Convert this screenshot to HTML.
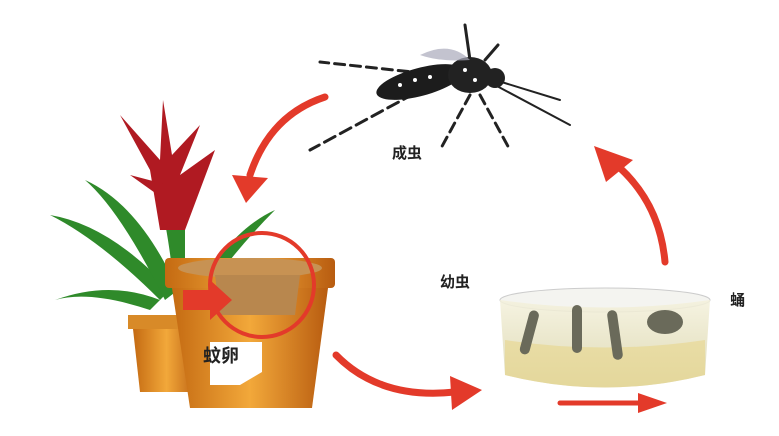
<!DOCTYPE html>
<html><head><meta charset="utf-8"><style>
html,body{margin:0;padding:0;background:#fff;width:779px;height:436px;overflow:hidden}
svg{display:block}
text{font-family:"Liberation Sans","Noto Sans CJK SC",sans-serif;font-weight:bold;fill:#222}
</style></head><body>
<svg width="779" height="436" viewBox="0 0 779 436">
<defs>
<linearGradient id="pot" x1="0" x2="1"><stop offset="0" stop-color="#c46a12"/><stop offset="0.5" stop-color="#f2a83a"/><stop offset="1" stop-color="#b85c10"/></linearGradient>
<linearGradient id="dish" x1="0" y1="0" x2="0" y2="1"><stop offset="0" stop-color="#f4f1dc"/><stop offset="1" stop-color="#d8d3a8"/></linearGradient>
</defs>
<!-- mosquito -->
<g stroke="#222" stroke-linecap="round" fill="none">
<path d="M440 75 L320 62" stroke-width="3" stroke-dasharray="10 6"/>
<path d="M430 85 L310 150" stroke-width="3" stroke-dasharray="12 6"/>
<path d="M470 95 L440 150" stroke-width="3" stroke-dasharray="10 6"/>
<path d="M480 95 L510 150" stroke-width="3" stroke-dasharray="10 6"/>
<path d="M495 85 L570 125" stroke-width="2"/>
<path d="M495 80 L560 100" stroke-width="2"/>
<path d="M470 60 L465 25" stroke-width="3"/>
<path d="M485 60 L498 45" stroke-width="3"/>
</g>
<ellipse cx="420" cy="82" rx="45" ry="14" fill="#1c1c1c" transform="rotate(-15 420 82)"/>
<ellipse cx="470" cy="75" rx="22" ry="18" fill="#222"/>
<circle cx="495" cy="78" r="10" fill="#222"/>
<path d="M420 55 Q450 40 470 60 Q440 62 420 55Z" fill="#aab" opacity="0.7"/>
<g fill="#fff"><circle cx="465" cy="70" r="2"/><circle cx="475" cy="80" r="2"/><circle cx="400" cy="85" r="2"/><circle cx="415" cy="80" r="2"/><circle cx="430" cy="77" r="2"/></g>
<text x="392" y="158" font-size="15">成虫</text>
<!-- plant -->
<g fill="#2f8a2a">
<path d="M160 300 Q100 240 50 215 Q110 225 170 290Z"/>
<path d="M165 300 Q120 210 85 180 Q140 205 178 290Z"/>
<path d="M190 300 Q230 230 275 210 Q235 250 200 300Z"/>
<path d="M175 300 Q170 240 160 200 L185 200 Q185 250 185 300Z"/>
<path d="M150 310 Q90 290 55 300 Q110 280 160 300Z"/>
</g>
<g fill="#b01a22">
<path d="M160 230 L150 170 L120 115 L160 160 L163 100 L172 155 L200 125 L180 175 L215 150 L185 230Z"/>
<path d="M165 200 L130 175 L168 185Z"/>
</g>
<!-- small pot -->
<rect x="128" y="315" width="78" height="14" fill="#d88a28"/>
<path d="M133 329 L200 329 L193 392 L140 392Z" fill="url(#pot)"/>
<!-- big pot -->
<rect x="165" y="258" width="170" height="30" rx="4" fill="url(#pot)"/>
<path d="M172 288 L328 288 L312 408 L190 408Z" fill="url(#pot)"/>
<ellipse cx="250" cy="268" rx="72" ry="10" fill="#c79253"/>
<path d="M215 275 L300 275 L295 315 L220 315Z" fill="#b8874e"/>
<path d="M210 342 L262 342 L262 372 L240 385 L210 385Z" fill="#fff"/>
<text x="203" y="362" font-size="18">蚊卵</text>
<circle cx="262" cy="285" r="52" fill="none" stroke="#e33a2a" stroke-width="4"/>
<path d="M183 290 L210 290 L210 280 L232 300 L210 320 L210 310 L183 310Z" fill="#e33a2a"/>
<!-- dish -->
<ellipse cx="605" cy="300" rx="105" ry="12" fill="#f4f4f0" stroke="#ccc"/>
<path d="M500 300 L505 375 Q605 400 705 375 L710 300 Q605 315 500 300Z" fill="url(#dish)" opacity="0.85"/>
<path d="M505 340 Q605 355 705 340 L705 375 Q605 400 505 375Z" fill="#e8d68a" opacity="0.6"/>
<g fill="#6a6a5a"><rect x="525" y="310" width="10" height="45" rx="5" transform="rotate(15 530 330)"/><rect x="572" y="305" width="10" height="48" rx="5"/><rect x="610" y="310" width="10" height="50" rx="5" transform="rotate(-8 615 335)"/><ellipse cx="665" cy="322" rx="18" ry="12"/></g>
<text x="440" y="287" font-size="15">幼虫</text>
<text x="730" y="305" font-size="15">蛹</text>
<!-- arrows -->
<g fill="none" stroke="#e33a2a" stroke-width="7" stroke-linecap="round">
<path d="M325 97 Q270 115 250 175"/>
<path d="M336 355 Q380 400 455 392"/>
<path d="M665 262 Q660 205 620 168"/>
<path d="M560 403 L640 403" stroke-width="5"/>
</g>
<g fill="#e33a2a">
<path d="M232 175 L268 178 L246 203Z"/>
<path d="M450 376 L482 390 L452 410Z"/>
<path d="M633 160 L594 146 L606 182Z"/>
<path d="M638 393 L667 403 L638 413Z"/>
</g>
</svg>
</body></html>
